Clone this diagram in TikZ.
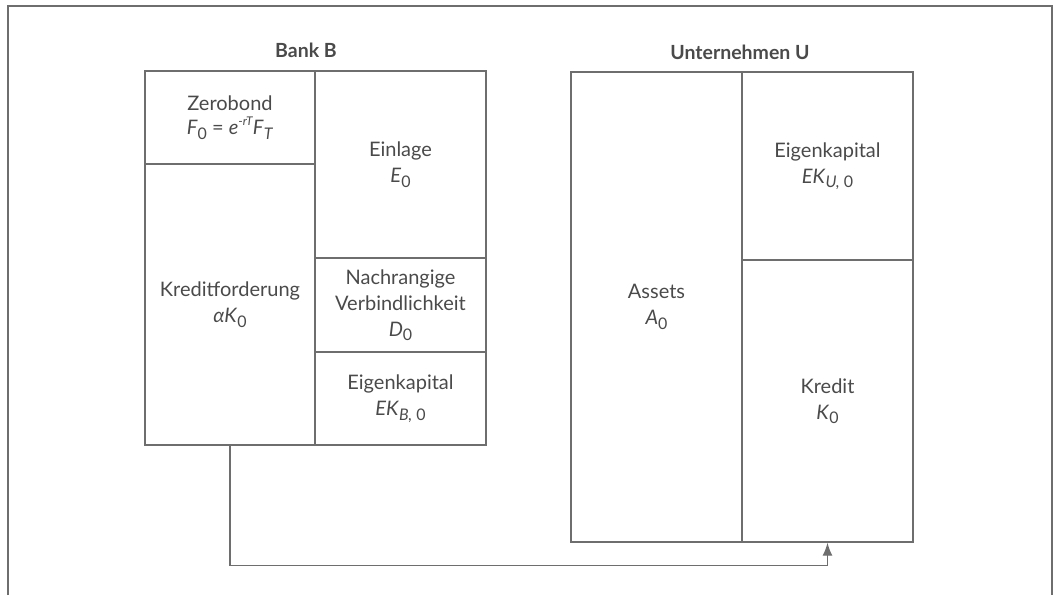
\documentclass[tikz,border=0pt]{standalone}
\usepackage{fontspec}
\setmainfont{Lato}
\usetikzlibrary{arrows.meta}
\definecolor{ink}{HTML}{4A4A4A}
\definecolor{rule}{HTML}{6E6E6E}
\newcommand{\mi}[1]{\textit{#1}}
\newcommand{\sbx}[1]{\raisebox{-0.45ex}{\fontsize{16}{16}\selectfont #1}}
\newcommand{\spx}[1]{\raisebox{0.9ex}{\fontsize{12}{12}\selectfont #1}}
\begin{document}
\begin{tikzpicture}[x=1pt,y=-1pt,
  cell/.style={draw=rule, line width=1.4pt, rectangle, inner sep=0pt, align=center,
    text=ink, font=\fontsize{20}{26}\selectfont},
  ttl/.style={text=ink, font=\fontsize{19.5}{22}\selectfont\bfseries},
  arr/.style={draw=rule, line width=1.4pt, -{Latex[length=13pt,width=10pt]}}]
\useasboundingbox (0,0) rectangle (1058,595);
\draw[rule, line width=1.4pt] (8,595) -- (8,6) -- (1052,6) -- (1052,595);
% Bank B
\node[ttl] (tb) at (306,50) {Bank B};
\node[cell, minimum width=170pt, minimum height=93pt] (zb) at (230,117.5)
  {Zerobond\\[-2pt] \mi{F}\sbx{0} = \mi{e}\spx{-\mi{rT}}\mi{F}\sbx{\mi{T}}};
\node[cell, minimum width=170pt, minimum height=281pt] (kf) at (230,304.5)
  {Kreditforderung\\ \mi{αK}\sbx{0}};
\node[cell, minimum width=171pt, minimum height=187pt] (ein) at (400.5,164.5)
  {Einlage\\ \mi{E}\sbx{0}};
\node[cell, minimum width=171pt, minimum height=94pt] (nv) at (400.5,305)
  {Nachrangige\\ Verbindlichkeit\\ \mi{D}\sbx{0}};
\node[cell, minimum width=171pt, minimum height=93pt] (ekb) at (400.5,398.5)
  {Eigenkapital\\ \mi{EK}\sbx{\mi{B,} 0}};
% Unternehmen U
\node[ttl] (tu) at (740,52) {Unternehmen U};
\node[cell, minimum width=171pt, minimum height=470pt] (as) at (656.5,307)
  {Assets\\ \mi{A}\sbx{0}};
\node[cell, minimum width=171pt, minimum height=188pt] (eku) at (827.5,166)
  {Eigenkapital\\ \mi{EK}\sbx{\mi{U,} 0}};
\node[cell, minimum width=171pt, minimum height=282pt] (kr) at (827.5,401)
  {Kredit\\ \mi{K}\sbx{0}};
% connector
\draw[arr] (kf.south) |- ([yshift=-23pt]kr.south) -- (kr.south);
\end{tikzpicture}
\end{document}
